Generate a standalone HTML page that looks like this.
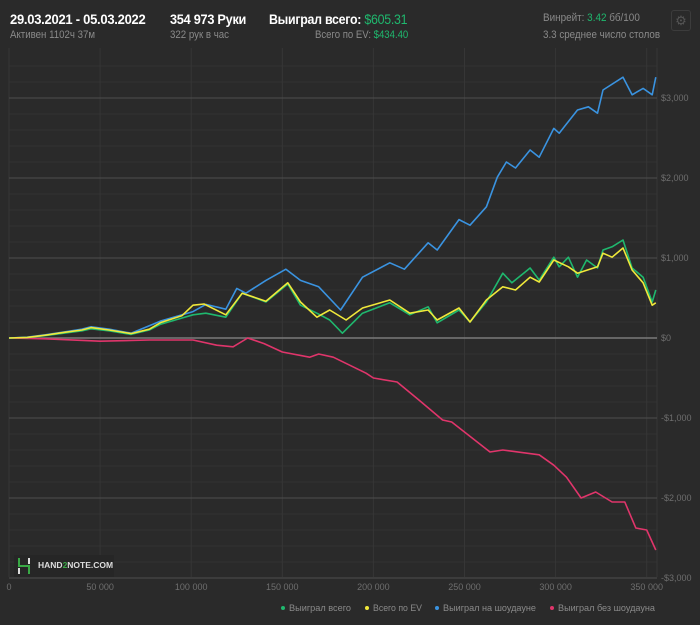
<!DOCTYPE html>
<html><head><meta charset="utf-8"><style>
body{margin:0;width:700px;height:625px;background:#2a2a2a;font-family:"Liberation Sans","Noto Sans CJK SC",sans-serif;overflow:hidden;position:relative}
.t{position:absolute;white-space:nowrap;transform-origin:left top}
.b{color:#fff;font-size:14px;font-weight:bold;letter-spacing:-0.3px;transform:scaleX(0.91)}
.s{color:#8a8a8a;font-size:11px;transform:scaleX(0.88)}
.g{color:#1fb86e}
</style></head><body>
<div class="t b" style="left:10px;top:11px;transform:scaleX(0.93)">29.03.2021 - 05.03.2022</div>
<div class="t s" style="left:10px;top:29px">Активен 1102ч 37м</div>
<div class="t b" style="left:170px;top:11px">354 973 Руки</div>
<div class="t s" style="left:170px;top:29px">322 рук в час</div>
<div class="t b" style="left:269px;top:11px;transform:scaleX(0.885)">Выиграл всего: <span class="g" style="font-weight:normal">$605.31</span></div>
<div class="t s" style="left:315px;top:29px;transform:scaleX(0.87)">Всего по EV: <span class="g">$434.40</span></div>
<div class="t s" style="left:543px;top:12px;transform:scaleX(0.9)">Винрейт: <span class="g">3.42</span> бб/100</div>
<div class="t s" style="left:543px;top:29px;transform:scaleX(0.89)">3.3 среднее число столов</div>
<div class="t" style="left:671px;top:10px;width:18px;height:19px;border:1px solid #3c3c3c;border-radius:3px;color:#555;font-size:13px;text-align:center;line-height:19px">⚙</div>
<svg id="c" width="700" height="625" style="position:absolute;left:0;top:0"></svg>
<div class="t" style="left:14px;top:555px;width:100px;height:22px;background:#262626">
<svg width="18" height="20" style="position:absolute;left:2px;top:1px"><path d="M3 2v8h10v8" stroke="#39a845" stroke-width="2" fill="none"/><path d="M3 12v6M13 2v6" stroke="#ddd" stroke-width="2"/></svg>
<span class="t" style="left:24px;top:5px;color:#ddd;font-size:8.5px;font-weight:bold">HAND<span style="color:#39a845">2</span>NOTE.COM</span></div>
<script>
const showdownHands=[0,10,20,30,40,45,55,67,83,95,101,108,119,125,130,141,152,160,170,182,194,209,217,230,235,247,253,262,268,273,278,286,291,299,302,312,318,323,326,337,342,348,353,355];
const showdownVals=[0,10,40,75,110,140,110,60,210,290,330,420,360,620,560,720,860,720,640,350,760,940,860,1190,1100,1480,1410,1640,2010,2200,2125,2350,2260,2620,2560,2850,2890,2810,3100,3260,3040,3120,3040,3260];
const totalHands=[0,10,20,30,40,45,55,67,77,83,95,101,108,119,128,141,153,160,169,176,183,194,209,220,230,235,247,253,262,271,276,286,291,299,302,307,312,317,323,326,331,337,342,348,353,355];
const totalVals=[0,5,30,60,90,115,90,45,100,170,250,290,310,260,560,450,675,410,310,225,60,310,440,290,390,190,350,200,450,810,690,875,725,1010,890,1010,760,975,875,1100,1140,1225,875,760,450,600];
const evHands=[0,10,20,30,40,45,55,67,77,83,95,101,107,119,128,141,153,160,169,176,185,194,209,220,230,235,247,253,262,271,278,286,291,299,307,312,323,326,331,337,342,348,353,355];
const evVals=[0,8,35,70,100,130,100,55,110,190,280,410,425,290,560,460,690,450,260,350,225,375,475,310,350,225,375,200,475,640,600,760,700,975,890,810,890,1060,1010,1125,850,690,410,440];
const nonSdHands=[0,20,50,77,101,114,123,131,140,150,165,170,178,196,200,213,225,238,243,264,271,291,299,306,314,322,331,338,344,350,355];
const nonSdVals=[0,-10,-40,-25,-25,-90,-110,0,-70,-175,-240,-200,-240,-440,-500,-550,-775,-1025,-1050,-1425,-1400,-1460,-1590,-1740,-2000,-1925,-2050,-2050,-2375,-2400,-2650];
const xTicks=[0,50000,100000,150000,200000,250000,300000,350000];
const xTickLabels=["0","50 000","100 000","150 000","200 000","250 000","300 000","350 000"];
const yTicks=[3000,2000,1000,0,-1000,-2000,-3000];
const yTickLabels=["$3,000","$2,000","$1,000","$0","-$1,000","-$2,000","-$3,000"];
const legendNames=["Выиграл всего","Всего по EV","Выиграл на шоудауне","Выиграл без шоудауна"];
const legendColors=["#1fb86e","#f0e83a","#3a93e0","#e0356b"];

const NS="http://www.w3.org/2000/svg";
const svg=document.getElementById('c');
const X=h=>9+h/50000*91.1;
const Y=v=>338-v*0.08;
function mk(tag,at,parent){const e=document.createElementNS(NS,tag);for(const k in at)e.setAttribute(k,at[k]);(parent||svg).appendChild(e);return e;}
for(let v=-3000;v<=3400;v+=200){if(v%1000===0)continue;const l=mk('line',{x1:9,x2:657,y1:Y(v),y2:Y(v),stroke:'#333','stroke-width':1});

}
xTicks.forEach((t,i)=>{const l=mk('line',{x1:X(t),x2:X(t),y1:48,y2:577,stroke:'#363636','stroke-width':1});


const tx=mk('text',{x:X(t),y:590,fill:'#6e6e6e','font-size':'9','text-anchor':'middle','font-family':'Liberation Sans'});tx.textContent=xTickLabels[i];

});
mk('line',{x1:657,x2:657,y1:48,y2:577,stroke:'#363636'});
yTicks.forEach((t,i)=>{const l=mk('line',{x1:9,x2:657,y1:Y(t),y2:Y(t),stroke:t===0?'#7a7a7a':'#4e4e4e','stroke-width':t===0?1.5:1});


const tx=mk('text',{x:661,y:Y(t)+3,fill:'#6e6e6e','font-size':'9','font-family':'Liberation Sans'});tx.textContent=yTickLabels[i];

});
function series(hs,vs,col,name){const d=hs.map((h,i)=>(i?'L':'M')+X(h*1000).toFixed(1)+' '+Y(vs[i]).toFixed(1)).join(' ');
const p=mk('path',{d:d,fill:'none',stroke:col,'stroke-width':1.6,'stroke-linejoin':'round'});

}
series(nonSdHands,nonSdVals,legendColors[3],'non-showdown-line');
series(showdownHands,showdownVals,legendColors[2],'showdown-line');
series(totalHands,totalVals,legendColors[0],'total-won-line');
series(evHands,evVals,legendColors[1],'ev-line');
const legX=[283,367,437,552];
const legW=[62,49,93,97];
legendNames.forEach((n,i)=>{const c=mk('circle',{cx:legX[i],cy:608,r:2,fill:legendColors[i]});


const t=mk('text',{x:legX[i]+6,y:611,fill:'#8a8a8a','font-size':'9.5','font-family':'Liberation Sans',textLength:legW[i],lengthAdjust:'spacingAndGlyphs'});t.textContent=n;

});
</script>
</body></html>
